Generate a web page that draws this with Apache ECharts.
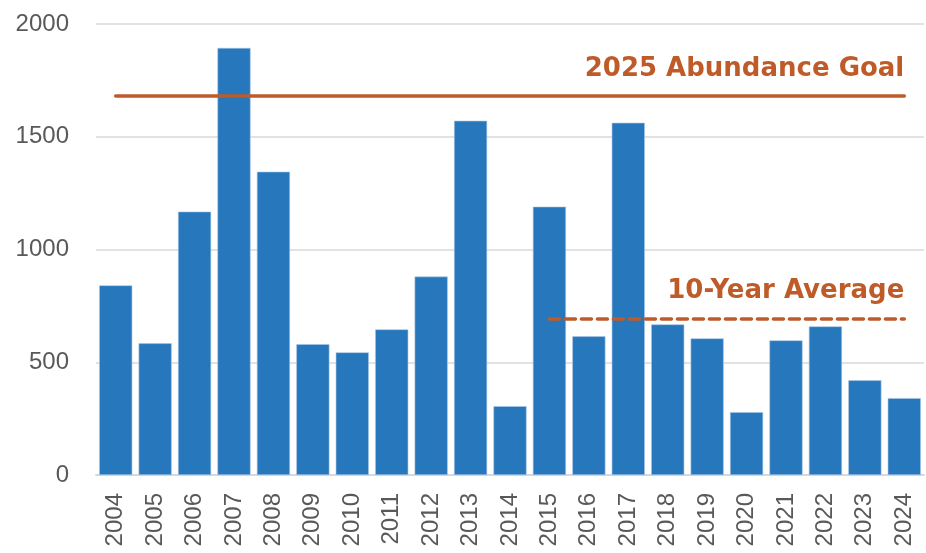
<!DOCTYPE html>
<html>
<head>
<meta charset="utf-8">
<script src="https://cdn.jsdelivr.net/npm/echarts@6/dist/echarts.min.js"></script>
<style>
  html, body { margin: 0; padding: 0; background: #fff; }
  #main { width: 926px; height: 553px; }
</style>
</head>
<body>
<div id="main"></div>
<script>
// data
const years = ['2004', '2005', '2006', '2007', '2008', '2009', '2010', '2011', '2012', '2013', '2014',
  '2015', '2016', '2017', '2018', '2019', '2020', '2021', '2022', '2023', '2024'];
const counts = [841, 584, 1168, 1894, 1345, 580, 544, 646, 880, 1571, 305,
  1190, 615, 1562, 668, 606, 279, 597, 659, 420, 341];
const goalValue = 1680;
const avgValue = 694;
const yTicks = { min: 0, max: 2000, interval: 500 };

const orange = '#BF5B28';
const axisFont = "'Liberation Sans', Arial, sans-serif";
const chart = echarts.init(document.getElementById('main'), null, { renderer: 'canvas' });

chart.setOption({
  backgroundColor: '#ffffff',
  animation: false,
  grid: { left: 96, right: 2, top: 24, bottom: 78 },
  xAxis: {
    type: 'category',
    data: years,
    axisTick: { show: false },
    axisLine: { lineStyle: { color: '#d9d9d9', width: 2 } },
    axisLabel: {
      rotate: 90,
      margin: 18,
      color: '#595959',
      fontSize: 24,
      fontFamily: axisFont,
    },
  },
  yAxis: {
    type: 'value',
    min: yTicks.min,
    max: yTicks.max,
    interval: yTicks.interval,
    axisLabel: {
      margin: 27,
      color: '#595959',
      fontSize: 24,
      fontFamily: axisFont,
      formatter: (v) => String(v),
    },
    splitLine: { lineStyle: { color: '#d9d9d9', width: 1.5 } },
  },
  series: [
    {
      type: 'bar',
      data: counts,
      barCategoryGap: '16%',
      itemStyle: { color: '#2677BC', borderColor: '#a9c8e6', borderWidth: 0.6 },
      markLine: {
        symbol: 'none',
        silent: true,
        label: {
          position: 'insideEndTop',
          distance: [0, 14],
          color: orange,
          fontSize: 26,
          fontWeight: 'bold',
          fontFamily: "'DejaVu Sans', sans-serif",
        },
        data: [
          [
            { coord: ['2004', goalValue], lineStyle: { color: orange, width: 3.5, type: 'solid', cap: 'round' },
              label: { formatter: '2025 Abundance Goal' } },
            { coord: ['2024', goalValue] },
          ],
          [
            { coord: ['2015', avgValue], lineStyle: { color: orange, width: 3.5, type: [10, 6], cap: 'round' },
              label: { formatter: '10-Year Average' } },
            { coord: ['2024', avgValue] },
          ],
        ],
      },
    },
  ],
});
</script>
</body>
</html>
